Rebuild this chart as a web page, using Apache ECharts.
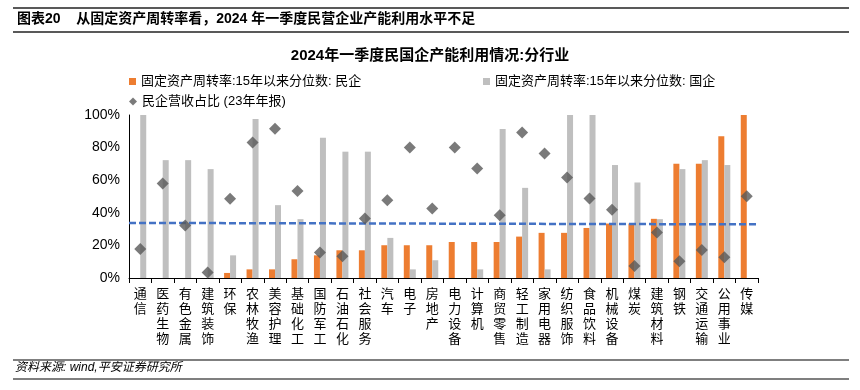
<!DOCTYPE html>
<html><head><meta charset="utf-8">
<script src="https://cdn.jsdelivr.net/npm/echarts@6/dist/echarts.min.js"></script>
<style>html,body{margin:0;padding:0;background:#fff}#c{width:860px;height:390px}</style>
</head><body><div id="c"></div>
<script>
const categories = ['通信','医药生物','有色金属','建筑装饰','环保','农林牧渔','美容护理','基础化工','国防军工','石油石化','社会服务','汽车','电子','房地产','电力设备','计算机','商贸零售','轻工制造','家用电器','纺织服饰','食品饮料','机械设备','煤炭','建筑材料','钢铁','交通运输','公用事业','传媒'];
const privateTurnover = [0,0,0,0,3.1,5.3,5.3,11.5,13.9,17,17,20.1,20.1,20.1,22.1,22.1,22.1,25.4,27.7,27.7,30.7,33.4,33.4,36.3,70.1,70.1,86.9,100];
const stateTurnover = [100,72.3,72.3,66.8,13.9,97.5,44.7,36.1,86.1,77.5,77.5,24.6,5.3,10.9,0,5.3,91.4,55.3,5.3,100,100,69.3,58.6,36.1,66.8,72.3,69.3,0];
const privateShare = [17.8,58,32.2,3.3,48.6,83.2,91.6,53.3,15.6,13.3,36.5,47.7,80.1,42.6,80.1,67.2,38.5,89.3,76.4,61.7,48.8,41.8,7.4,27.9,10.2,17.2,12.7,50.2];
const trendLine = [[0,33.8],[1,32.9]];
const yTicks = ['0%','20%','40%','60%','80%','100%'];

const cjk = '"Liberation Sans","Noto Sans CJK SC",sans-serif';
const chart = echarts.init(document.getElementById('c'));
chart.setOption({
  animation:false,
  backgroundColor:'#fff',
  textStyle:{fontFamily:cjk},
  title:{text:'2024年一季度民国企产能利用情况:分行业',left:'center',top:43,
    textStyle:{fontSize:15,fontWeight:'bold',color:'#000',fontFamily:cjk}},
  legend:[
    {left:124,top:70,itemWidth:7,itemHeight:7,itemGap:4,icon:'rect',
     textStyle:{fontSize:13,color:'#000',fontFamily:cjk},data:['固定资产周转率:15年以来分位数: 民企']},
    {left:478,top:70,itemWidth:7,itemHeight:7,itemGap:4,icon:'rect',
     textStyle:{fontSize:13,color:'#000',fontFamily:cjk},data:['固定资产周转率:15年以来分位数: 国企']},
    {left:124,top:90,itemWidth:8,itemHeight:8,itemGap:4,icon:'diamond',
     textStyle:{fontSize:13,color:'#000',fontFamily:cjk},data:['民企营收占比 (23年年报)']}
  ],
  grid:{left:129,right:102,top:115,bottom:112,containLabel:false},
  xAxis:[
    {type:'category',data:categories,boundaryGap:true,
     axisLine:{lineStyle:{color:'#000',width:1}},
     axisTick:{show:true,length:5,lineStyle:{color:'#000'}},
     axisLabel:{interval:0,fontSize:13,lineHeight:15,color:'#000',margin:8,
       fontFamily:'"Noto Sans CJK SC",sans-serif',
       formatter:v=>v.split('').join('\n')}},
    {type:'value',min:0,max:1,show:false}
  ],
  yAxis:{type:'value',min:0,max:100,interval:20,
    axisLine:{show:true,lineStyle:{color:'#000'}},
    axisTick:{show:false},splitLine:{show:false},
    axisLabel:{fontSize:14,color:'#000',margin:9,fontFamily:'"Liberation Sans",sans-serif',
      formatter:v=>yTicks[Math.round(v/20)]}},
  series:[
    {name:'固定资产周转率:15年以来分位数: 民企',type:'bar',data:privateTurnover,barWidth:6,barGap:'0%',
     itemStyle:{color:'#ED7D31'}},
    {name:'固定资产周转率:15年以来分位数: 国企',type:'bar',data:stateTurnover,barWidth:6,barGap:'0%',
     itemStyle:{color:'#BFBFBF'}},
    {name:'民企营收占比 (23年年报)',type:'scatter',data:privateShare,symbol:'diamond',symbolSize:12,
     itemStyle:{color:'#595959'},z:5},
    {name:'trend',type:'line',xAxisIndex:1,data:trendLine,symbol:'none',
     lineStyle:{color:'#4472C4',width:2.5,type:[7,3]},z:4}
  ],
  graphic:[
    {type:'line',shape:{x1:13,y1:8,x2:849,y2:8},style:{stroke:'#222',lineWidth:1.5}},
    {type:'line',shape:{x1:13,y1:32,x2:849,y2:32},style:{stroke:'#222',lineWidth:1.5}},
    {type:'text',left:17,top:12,style:{text:'图表20    从固定资产周转率看，2024 年一季度民营企业产能利用水平不足',
      font:'bold 14px "Liberation Sans","Noto Sans CJK SC",sans-serif',fill:'#000'}},
    {type:'line',shape:{x1:13,y1:360,x2:849,y2:360},style:{stroke:'#555',lineWidth:1.5}},
    {type:'line',shape:{x1:13,y1:379,x2:849,y2:379},style:{stroke:'#555',lineWidth:1.5}},
    {type:'text',left:15,top:362,style:{text:'资料来源: wind,平安证券研究所',
      font:'italic 12px "Liberation Sans","Noto Sans CJK SC",sans-serif',fill:'#000'}}
  ]
});
</script></body></html>
